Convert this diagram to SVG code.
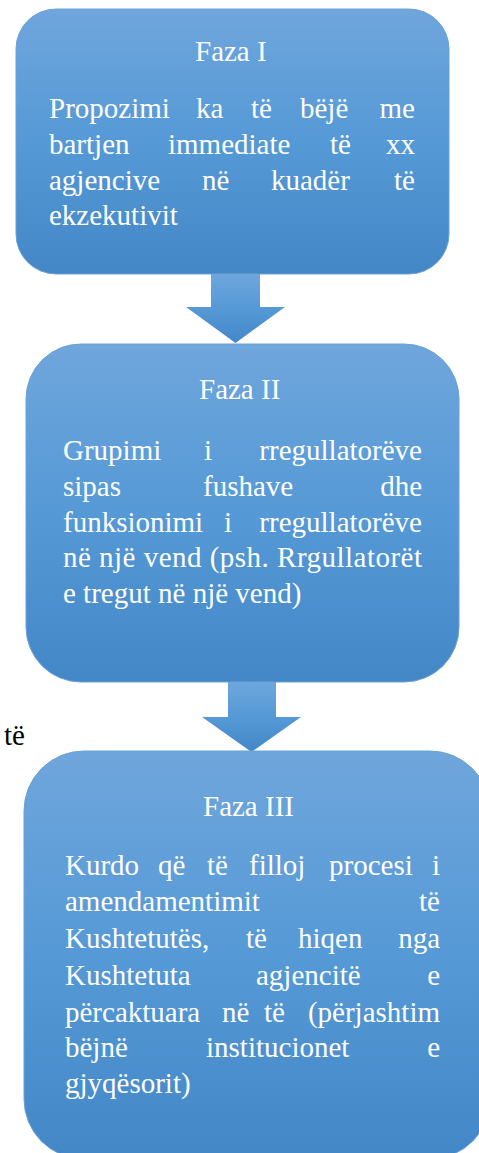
<svg xmlns="http://www.w3.org/2000/svg" width="479" height="1153" viewBox="0 0 479 1153">
  <defs>
    <linearGradient id="g" x1="0" y1="0" x2="0" y2="1">
      <stop offset="0" stop-color="#6fa6dc"/>
      <stop offset="0.5" stop-color="#5599d6"/>
      <stop offset="1" stop-color="#4487c7"/>
    </linearGradient>
    <style>
      .box { fill: url(#g); stroke: #6aa2d8; stroke-width: 1; }
      .arrow { fill: url(#g); }
      text { font-size: 29px; fill: #ffffff; }
      .r { text-anchor: end; }
      .bg { fill: #000000; }
    </style>
  </defs>
  <rect width="479" height="1153" fill="#ffffff"/>
  <g font-family="'Liberation Serif', 'DejaVu Serif', 'Noto Serif', 'Times New Roman', Times, serif">
  <text class="bg" x="4" y="745">të</text>

  <g id="connectors">
    <polygon class="arrow" points="211,274 260,274 260,307 285,307 235.5,343 186,307 211,307"/>
    <polygon class="arrow" points="228,682 276,682 276,717 301,717 251.5,752 202,717 228,717"/>
  </g>

  <g id="faza1">
    <rect class="box" x="16" y="9" width="433" height="265" rx="40" ry="40"/>
    <text x="195" y="61">Faza I</text>
    <text x="49" y="118">Propozimi</text>
    <text x="196" y="118">ka</text>
    <text x="251" y="118">të</text>
    <text x="300" y="118">bëjë</text>
    <text class="r" x="415" y="118">me</text>
    <text x="49" y="154">bartjen</text>
    <text x="168" y="154">immediate</text>
    <text x="330" y="154">të</text>
    <text class="r" x="415" y="154">xx</text>
    <text x="49" y="190">agjencive</text>
    <text x="202" y="190">në</text>
    <text x="271" y="190">kuadër</text>
    <text class="r" x="415" y="190">të</text>
    <text x="49" y="225">ekzekutivit</text>
  </g>

  <g id="faza2">
    <rect class="box" x="26" y="344" width="433" height="338" rx="55" ry="55"/>
    <text x="199" y="399">Faza II</text>
    <text x="63" y="460">Grupimi</text>
    <text x="204" y="460">i</text>
    <text class="r" x="422" y="460">rregullatorëve</text>
    <text x="63" y="496">sipas</text>
    <text x="203" y="496">fushave</text>
    <text class="r" x="422" y="496">dhe</text>
    <text x="63" y="532">funksionimi</text>
    <text x="224" y="532">i</text>
    <text class="r" x="422" y="532">rregullatorëve</text>
    <text x="63" y="567" textLength="359" lengthAdjust="spacing">në një vend (psh. Rrgullatorët</text>
    <text x="63" y="603">e tregut në një vend)</text>
  </g>

  <g id="faza3">
    <rect class="box" x="24" y="751" width="466" height="408" rx="60" ry="60"/>
    <text x="203" y="816">Faza III</text>
    <text x="65" y="875">Kurdo</text>
    <text x="158" y="875">që</text>
    <text x="207" y="875">të</text>
    <text x="249" y="875">filloj</text>
    <text x="329" y="875">procesi</text>
    <text class="r" x="440" y="875">i</text>
    <text x="65" y="911">amendamentimit</text>
    <text class="r" x="440" y="911">të</text>
    <text x="65" y="948">Kushtetutës,</text>
    <text x="246" y="948">të</text>
    <text x="298" y="948">hiqen</text>
    <text class="r" x="440" y="948">nga</text>
    <text x="65" y="985">Kushtetuta</text>
    <text x="256" y="985">agjencitë</text>
    <text class="r" x="440" y="985">e</text>
    <text x="65" y="1022">përcaktuara</text>
    <text x="222" y="1022">në</text>
    <text x="264" y="1022">të</text>
    <text class="r" x="440" y="1022">(përjashtim</text>
    <text x="65" y="1057">bëjnë</text>
    <text x="206" y="1057">institucionet</text>
    <text class="r" x="440" y="1057">e</text>
    <text x="65" y="1093">gjyqësorit)</text>
  </g>
  </g>
</svg>
